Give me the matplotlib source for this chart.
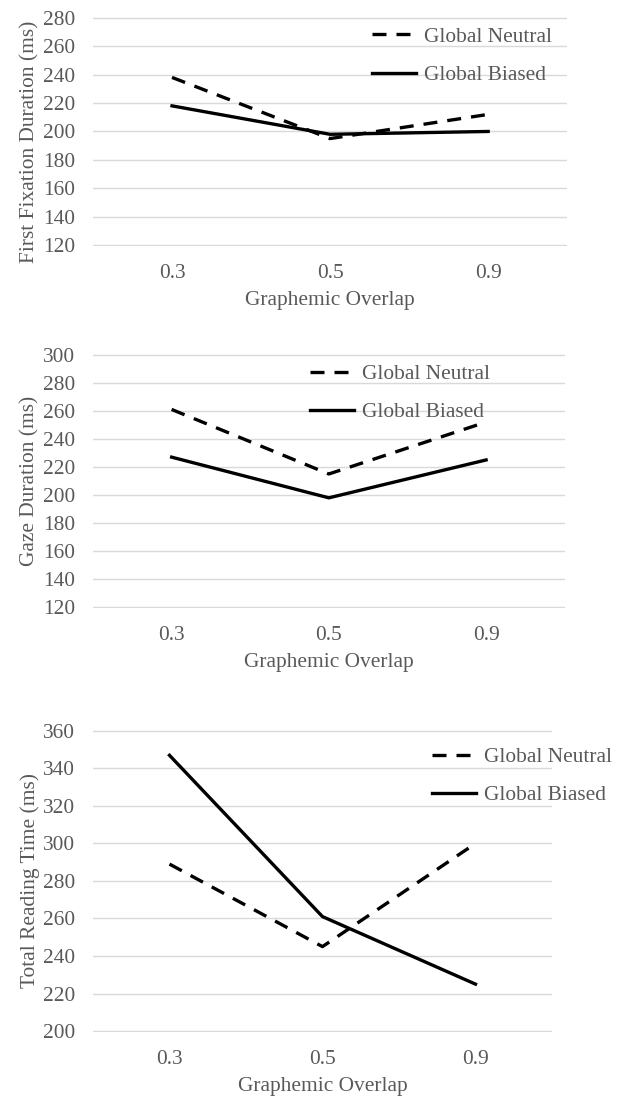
"""Eye-tracking measures by graphemic overlap: three stacked Excel-style line charts."""
import matplotlib
matplotlib.use("Agg")
import matplotlib.pyplot as plt

plt.rcParams.update({
    "font.family": ["Liberation Serif", "DejaVu Serif"],
    "font.size": 15.4,
    "text.color": "#595959",
    "axes.labelcolor": "#595959",
    "xtick.color": "#595959",
    "ytick.color": "#595959",
})

CATEGORIES = ["0.3", "0.5", "0.9"]
SERIES = ["Global Neutral", "Global Biased"]

FFD_NEUTRAL = [238, 195, 212]
FFD_BIASED = [218, 198, 200]
GAZE_NEUTRAL = [261, 215, 252]
GAZE_BIASED = [227, 198, 225]
TRT_NEUTRAL = [289, 245, 300]
TRT_BIASED = [347, 261, 225]

YLABELS = ["First Fixation Duration (ms)", "Gaze Duration (ms)",
           "Total Reading Time (ms)"]
YRANGES = [(120, 280), (120, 300), (200, 360)]
XLABEL = "Graphemic Overlap"

# axes rectangles in figure fraction (left, bottom, width, height)
RECTS = [(0.149, 0.7796, 0.760, 0.2052),
         (0.149, 0.4552, 0.756, 0.2276),
         (0.149, 0.0753, 0.7356, 0.2706)]
# legend upper-left anchors in figure fraction
LEG_ANCHORS = [(0.596, 0.9758), (0.497, 0.6738), (0.692, 0.3306)]
# vertical centre of the y label (axes fraction); top panel sits lower
YLABEL_Y = [0.454, 0.5, 0.5]

GRID = "#d9d9d9"
LW = 2.4

fig = plt.figure(figsize=(6.24, 11.16), dpi=100)

panels = [(FFD_NEUTRAL, FFD_BIASED), (GAZE_NEUTRAL, GAZE_BIASED),
          (TRT_NEUTRAL, TRT_BIASED)]

for i, (neu, bia) in enumerate(panels):
    ax = fig.add_axes(RECTS[i])
    x = list(range(len(CATEGORIES)))
    ax.plot(x, neu, color="black", lw=LW, dashes=(4.2, 3.0),
            label=SERIES[0], solid_joinstyle="round")
    ax.plot(x, bia, color="black", lw=LW, label=SERIES[1],
            solid_joinstyle="round")

    lo, hi = YRANGES[i]
    ax.set_ylim(lo - 0.5, hi + 0.5)
    ax.set_yticks(range(lo, hi + 1, 20))
    ax.set_xlim(-0.5, len(CATEGORIES) - 0.5)
    ax.set_xticks(x)
    ax.set_xticklabels(CATEGORIES)

    for s in ax.spines.values():
        s.set_visible(False)
    ax.grid(axis="y", color=GRID, lw=1.0)
    ax.set_axisbelow(True)
    ax.tick_params(axis="both", length=0)
    ax.tick_params(axis="y", pad=13)
    ax.tick_params(axis="x", pad=13)

    ax.set_ylabel(YLABELS[i], labelpad=2)
    ax.yaxis.label.set_y(YLABEL_Y[i])
    ax.set_xlabel(XLABEL, labelpad=6)

    fig.legend(handles=ax.get_lines(), loc="upper left",
               bbox_to_anchor=LEG_ANCHORS[i], bbox_transform=fig.transFigure,
               frameon=False, borderpad=0, borderaxespad=0,
               handlelength=2.05, handletextpad=0.38, labelspacing=0.85)

fig.savefig("out.png", dpi=100)
